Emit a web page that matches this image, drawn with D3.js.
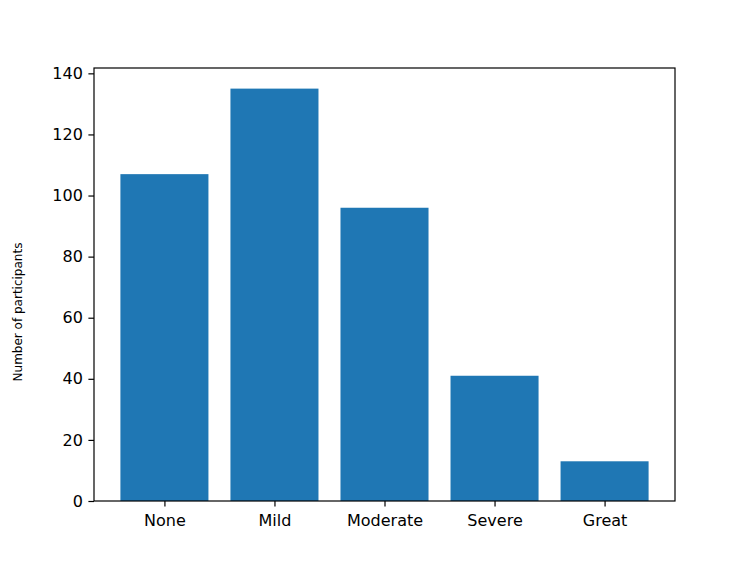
<!DOCTYPE html>
<html>
<head>
<meta charset="utf-8">
<script src="https://cdn.jsdelivr.net/npm/d3@7"></script>
<style>
	body { margin: 0; background: #fff; }
	svg { display: block; font-family: "DejaVu Sans", sans-serif; }
</style>
</head>
<body>
<div id="chart"></div>
<script>
const categories = ["None", "Mild", "Moderate", "Severe", "Great"];
const counts = [107, 135, 96, 41, 13];
const yTicks = [0, 20, 40, 60, 80, 100, 120, 140];

const width = 750;
const height = 563;
const margin = ({ top: 68, right: 75, bottom: 62, left: 94 });

// matplotlib-like limits: bars of width 0.8, 5% margins
const x = d3.scaleLinear()
	.domain([-0.64, categories.length - 1 + 0.64])
	.range([margin.left, width - margin.right]);

const y = d3.scaleLinear()
	.domain([0, d3.max(counts) * 1.05])
	.range([height - margin.bottom, margin.top]);

const svg = d3.select("#chart")
	.append("svg")
	.attr("width", width)
	.attr("height", height)
	.attr("viewBox", [0, 0, width, height]);

svg.append("g")
	.selectAll("rect")
	.data(counts)
	.join("rect")
	.attr("x", (d, i) => x(i - 0.4))
	.attr("width", x(0.8) - x(0))
	.attr("y", d => y(d))
	.attr("height", d => y(0) - y(d))
	.attr("fill", "#1f77b4");

const xAxis = g => g
	.attr("transform", `translate(0,${height - margin.bottom})`)
	.call(d3.axisBottom(x).tickValues(d3.range(categories.length))
		.tickFormat(i => categories[i]).tickSize(5.6).tickPadding(5.6).tickSizeOuter(0))
	.call(g => g.select(".domain").remove())
	.call(g => g.selectAll(".tick line").attr("stroke", "#000").attr("stroke-width", 1.2))
	.call(g => g.selectAll(".tick text").attr("font-size", 16).attr("fill", "#000")
		.attr("font-family", "DejaVu Sans").attr("y", 25).attr("dy", null));

const yAxis = g => g
	.attr("transform", `translate(${margin.left},0)`)
	.call(d3.axisLeft(y).tickValues(yTicks).tickSize(5.6).tickPadding(5.6).tickSizeOuter(0))
	.call(g => g.select(".domain").remove())
	.call(g => g.selectAll(".tick line").attr("stroke", "#000").attr("stroke-width", 1.2))
	.call(g => g.selectAll(".tick text").attr("font-size", 16).attr("fill", "#000")
		.attr("font-family", "DejaVu Sans"));

svg.append("g").call(xAxis);
svg.append("g").call(yAxis);

svg.append("rect")
	.attr("x", margin.left)
	.attr("y", margin.top)
	.attr("width", width - margin.left - margin.right)
	.attr("height", height - margin.top - margin.bottom)
	.attr("fill", "none")
	.attr("stroke", "#000")
	.attr("stroke-width", 1.2);

svg.append("text")
	.attr("transform", "translate(21.5,312) rotate(-90)")
	.attr("text-anchor", "middle")
	.attr("font-size", 12)
	.attr("fill", "#000")
	.text("Number of participants");
</script>
</body>
</html>
